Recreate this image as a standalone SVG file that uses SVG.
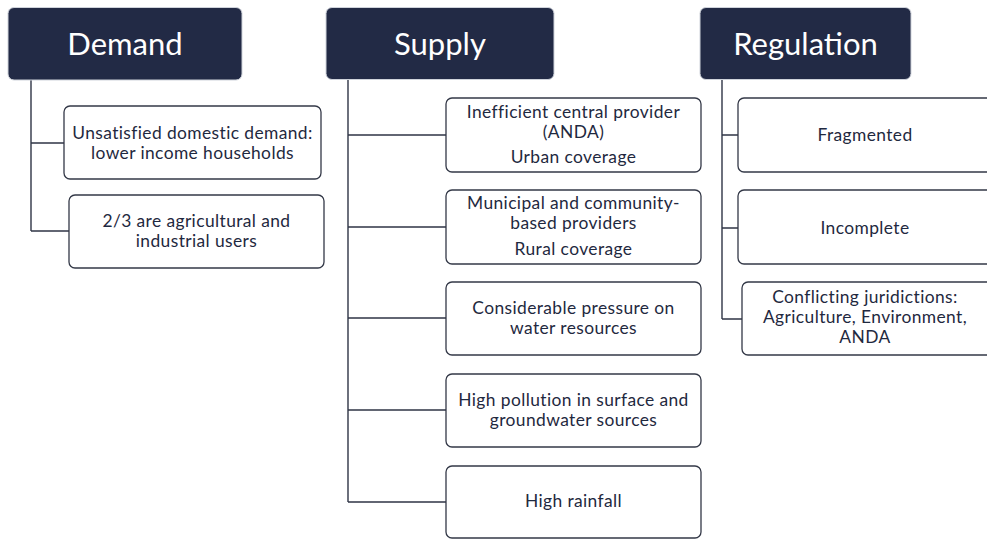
<svg xmlns="http://www.w3.org/2000/svg" width="987" height="542" viewBox="0 0 987 542">
  <style>
    .head rect { fill: #222a45; stroke: #cfd3db; stroke-width: 1; }
    .head text { fill: #ffffff; font-family: Lato, "Liberation Sans", sans-serif; font-size: 31px; text-anchor: middle; }
    .item rect { fill: #ffffff; stroke: #333847; stroke-width: 1.3; }
    .item text { fill: #1f2940; font-family: Lato, "Liberation Sans", sans-serif; font-size: 17.4px; letter-spacing: 0.4px; text-anchor: middle; }
    .links path { fill: none; stroke: #2f3546; stroke-width: 1.4; }
  </style>
  <rect width="987" height="542" fill="#ffffff"/>

  <g class="links" id="connectors">
    <path d="M31 80 V231 M31 143 H64 M31 231 H69"/>
    <path d="M348 79 V502 M348 135 H446 M348 227 H446 M348 318 H446 M348 410 H446 M348 502 H446"/>
    <path d="M722 79 V319 M722 135 H738 M722 228 H738 M722 319 H742"/>
  </g>

  <g class="head" id="demand">
    <rect x="8" y="7.5" width="234" height="72.5" rx="6"/>
    <text x="125" y="55">Demand</text>
  </g>
  <g class="head" id="supply">
    <rect x="326" y="7.5" width="228" height="72" rx="6"/>
    <text x="440" y="55">Supply</text>
  </g>
  <g class="head" id="regulation">
    <rect x="700" y="7.5" width="211" height="72" rx="6"/>
    <text x="805.5" y="55">Regulation</text>
  </g>

  <g class="item" id="demand-domestic">
    <rect x="64" y="106" width="257" height="73" rx="6"/>
    <text x="192.5" y="139">Unsatisfied domestic demand:</text>
    <text x="192.5" y="159">lower income households</text>
  </g>
  <g class="item" id="demand-agri">
    <rect x="69" y="195" width="255" height="73" rx="6"/>
    <text x="196.5" y="227">2/3 are agricultural and</text>
    <text x="196.5" y="247">industrial users</text>
  </g>

  <g class="item" id="supply-central">
    <rect x="446" y="98" width="255" height="74" rx="6"/>
    <text x="573.5" y="118">Inefficient central provider</text>
    <text x="573.5" y="138">(ANDA)</text>
    <text x="573.5" y="163">Urban coverage</text>
  </g>
  <g class="item" id="supply-municipal">
    <rect x="446" y="190" width="255" height="74" rx="6"/>
    <text x="573.5" y="209">Municipal and community-</text>
    <text x="573.5" y="229">based providers</text>
    <text x="573.5" y="255">Rural coverage</text>
  </g>
  <g class="item" id="supply-pressure">
    <rect x="446" y="282" width="255" height="73" rx="6"/>
    <text x="573.5" y="314">Considerable pressure on</text>
    <text x="573.5" y="334">water resources</text>
  </g>
  <g class="item" id="supply-pollution">
    <rect x="446" y="374" width="255" height="73" rx="6"/>
    <text x="573.5" y="406">High pollution in surface and</text>
    <text x="573.5" y="426">groundwater sources</text>
  </g>
  <g class="item" id="supply-rainfall">
    <rect x="446" y="466" width="255" height="72" rx="6"/>
    <text x="573.5" y="507">High rainfall</text>
  </g>

  <g class="item" id="reg-fragmented">
    <rect x="738" y="98" width="260" height="74" rx="6"/>
    <text x="865" y="141">Fragmented</text>
  </g>
  <g class="item" id="reg-incomplete">
    <rect x="738" y="190" width="260" height="74" rx="6"/>
    <text x="865" y="234">Incomplete</text>
  </g>
  <g class="item" id="reg-conflicting">
    <rect x="742" y="282" width="260" height="73" rx="6"/>
    <text x="865" y="303">Conflicting juridictions:</text>
    <text x="865" y="323">Agriculture, Environment,</text>
    <text x="865" y="343">ANDA</text>
  </g>
</svg>
